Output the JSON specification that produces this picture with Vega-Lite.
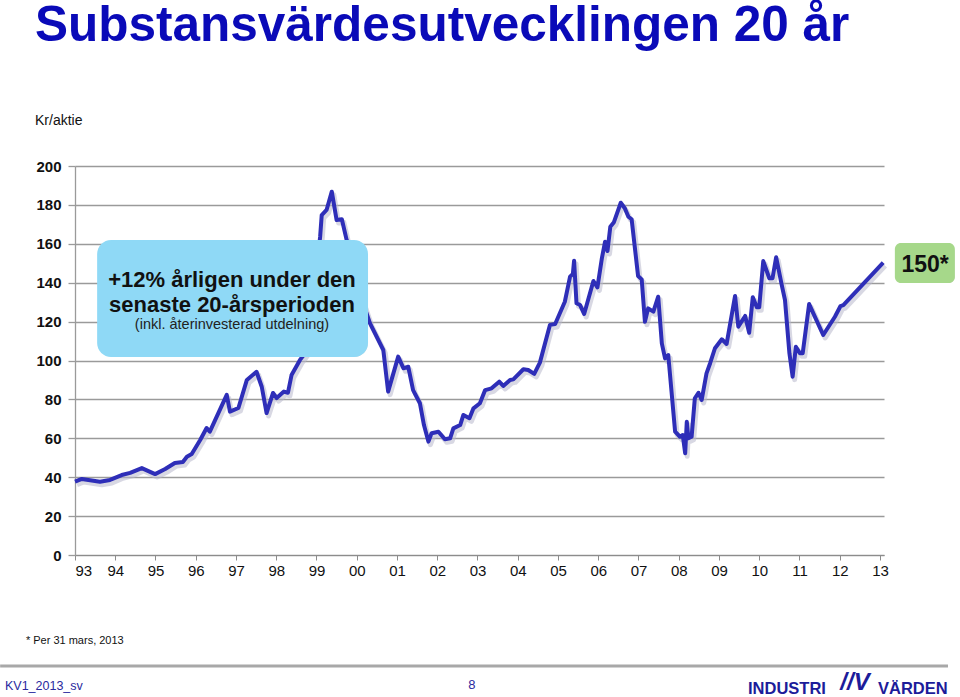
{
  "$schema": "https://vega.github.io/schema/vega-lite/v6.json",
  "width": 809,
  "height": 389,
  "autosize": {"type": "none"},
  "padding": {"left": 75, "top": 166, "right": 76, "bottom": 142},
  "background": "white",
  "config": {
    "view": {"stroke": null},
    "font": "Liberation Sans"
  },
  "title": {
    "text": "Substansvärdesutvecklingen 20 år",
    "subtitle": "Kr/aktie",
    "anchor": "start",
    "frame": "group",
    "dx": -40,
    "offset": 30,
    "subtitlePadding": 63,
    "font": "Liberation Sans",
    "fontSize": 49.5,
    "fontWeight": "bold",
    "color": "#0a0ab8",
    "subtitleFont": "Liberation Sans",
    "subtitleFontSize": 14,
    "subtitleColor": "#111111"
  },
  "datasets": {
    "nav": [
      {"t": 1993.00, "v": 37.7}, {"t": 1993.17, "v": 39.1}, {"t": 1993.62, "v": 37.7}, {"t": 1993.87, "v": 38.6},
      {"t": 1994.16, "v": 41.1}, {"t": 1994.37, "v": 42.2}, {"t": 1994.66, "v": 44.7}, {"t": 1994.99, "v": 41.6},
      {"t": 1995.24, "v": 44.2}, {"t": 1995.48, "v": 47.3}, {"t": 1995.68, "v": 47.8}, {"t": 1995.78, "v": 50.5},
      {"t": 1995.90, "v": 51.9}, {"t": 1996.11, "v": 59.1}, {"t": 1996.27, "v": 65.3}, {"t": 1996.35, "v": 63.4},
      {"t": 1996.77, "v": 82.3}, {"t": 1996.85, "v": 73.7}, {"t": 1997.06, "v": 75.6}, {"t": 1997.27, "v": 90.0},
      {"t": 1997.51, "v": 94.2}, {"t": 1997.64, "v": 86.5}, {"t": 1997.76, "v": 73.0}, {"t": 1997.92, "v": 83.3},
      {"t": 1998.01, "v": 80.7}, {"t": 1998.19, "v": 84.0}, {"t": 1998.29, "v": 83.4}, {"t": 1998.38, "v": 92.5},
      {"t": 1998.59, "v": 100.3}, {"t": 1998.74, "v": 104.4}, {"t": 1998.94, "v": 136.0}, {"t": 1999.09, "v": 163.5},
      {"t": 1999.13, "v": 174.8}, {"t": 1999.25, "v": 177.4}, {"t": 1999.38, "v": 186.8}, {"t": 1999.50, "v": 172.2},
      {"t": 1999.63, "v": 172.6}, {"t": 1999.75, "v": 161.9}, {"t": 1999.96, "v": 146.5}, {"t": 2000.13, "v": 131.1},
      {"t": 2000.33, "v": 119.1}, {"t": 2000.66, "v": 105.4}, {"t": 2000.78, "v": 84.0}, {"t": 2001.03, "v": 102.0},
      {"t": 2001.16, "v": 96.0}, {"t": 2001.28, "v": 96.8}, {"t": 2001.40, "v": 84.8}, {"t": 2001.57, "v": 78.0},
      {"t": 2001.67, "v": 66.8}, {"t": 2001.78, "v": 58.3}, {"t": 2001.86, "v": 62.6}, {"t": 2002.03, "v": 63.4},
      {"t": 2002.19, "v": 59.5}, {"t": 2002.32, "v": 60.0}, {"t": 2002.40, "v": 65.1}, {"t": 2002.57, "v": 66.8},
      {"t": 2002.65, "v": 72.0}, {"t": 2002.80, "v": 70.3}, {"t": 2002.90, "v": 75.4}, {"t": 2003.06, "v": 78.0},
      {"t": 2003.19, "v": 84.8}, {"t": 2003.35, "v": 85.7}, {"t": 2003.54, "v": 89.1}, {"t": 2003.64, "v": 86.9},
      {"t": 2003.81, "v": 90.0}, {"t": 2003.89, "v": 90.3}, {"t": 2004.14, "v": 95.5}, {"t": 2004.26, "v": 95.1},
      {"t": 2004.41, "v": 93.1}, {"t": 2004.55, "v": 98.9}, {"t": 2004.80, "v": 118.3}, {"t": 2004.93, "v": 118.8},
      {"t": 2005.17, "v": 130.2}, {"t": 2005.30, "v": 143.1}, {"t": 2005.37, "v": 144.5}, {"t": 2005.40, "v": 151.3},
      {"t": 2005.46, "v": 129.4}, {"t": 2005.55, "v": 128.5}, {"t": 2005.65, "v": 123.9}, {"t": 2005.88, "v": 140.9},
      {"t": 2005.98, "v": 137.6}, {"t": 2006.09, "v": 152.5}, {"t": 2006.17, "v": 161.1}, {"t": 2006.23, "v": 156.3},
      {"t": 2006.30, "v": 168.8}, {"t": 2006.39, "v": 171.1}, {"t": 2006.56, "v": 181.1}, {"t": 2006.66, "v": 178.3},
      {"t": 2006.75, "v": 173.9}, {"t": 2006.83, "v": 172.6}, {"t": 2006.99, "v": 143.4}, {"t": 2007.08, "v": 141.7},
      {"t": 2007.16, "v": 119.9}, {"t": 2007.24, "v": 126.8}, {"t": 2007.37, "v": 125.1}, {"t": 2007.49, "v": 132.8},
      {"t": 2007.58, "v": 108.8}, {"t": 2007.66, "v": 101.1}, {"t": 2007.74, "v": 102.8}, {"t": 2007.91, "v": 63.4},
      {"t": 2008.03, "v": 60.8}, {"t": 2008.10, "v": 61.7}, {"t": 2008.16, "v": 52.3}, {"t": 2008.20, "v": 68.5},
      {"t": 2008.24, "v": 60.0}, {"t": 2008.32, "v": 60.8}, {"t": 2008.40, "v": 80.6}, {"t": 2008.49, "v": 83.4},
      {"t": 2008.57, "v": 79.7}, {"t": 2008.69, "v": 93.4}, {"t": 2008.78, "v": 98.6}, {"t": 2008.90, "v": 106.3},
      {"t": 2009.07, "v": 110.9}, {"t": 2009.19, "v": 108.5}, {"t": 2009.40, "v": 133.2}, {"t": 2009.48, "v": 117.4},
      {"t": 2009.65, "v": 122.9}, {"t": 2009.75, "v": 114.3}, {"t": 2009.84, "v": 132.5}, {"t": 2009.94, "v": 127.4},
      {"t": 2010.00, "v": 127.4}, {"t": 2010.10, "v": 151.1}, {"t": 2010.25, "v": 142.3}, {"t": 2010.33, "v": 142.3},
      {"t": 2010.42, "v": 153.1}, {"t": 2010.56, "v": 138.8}, {"t": 2010.64, "v": 131.1}, {"t": 2010.75, "v": 103.7},
      {"t": 2010.83, "v": 91.7}, {"t": 2010.91, "v": 107.1}, {"t": 2011.01, "v": 103.7}, {"t": 2011.08, "v": 103.7},
      {"t": 2011.24, "v": 129.0}, {"t": 2011.59, "v": 113.1}, {"t": 2011.88, "v": 122.5}, {"t": 2012.02, "v": 128.0},
      {"t": 2012.09, "v": 128.5}, {"t": 2013.08, "v": 150.3}
    ]
  },
  "layer": [
    {
      "data": {"name": "nav"},
      "mark": {"type": "line", "stroke": "#b8b8cc", "strokeWidth": 5, "opacity": 0.55, "xOffset": 2, "yOffset": 3, "strokeJoin": "round"},
      "encoding": {
        "x": {"field": "t", "type": "quantitative", "scale": {"domain": [1993, 2013.1], "nice": false, "zero": false},
          "axis": {"values": [1993,1994,1995,1996,1997,1998,1999,2000,2001,2002,2003,2004,2005,2006,2007,2008,2009,2010,2011,2012,2013],
            "tickCount": 30,
            "labelExpr": "substring(toString(datum.value), 2, 4)", "title": null, "grid": false, "labelOverlap": false,
            "labelFont": "Liberation Sans", "labelFontSize": 15, "labelColor": "#111111",
            "tickColor": "#8c8c8c", "tickSize": 5, "tickWidth": 1, "domainColor": "#8c8c8c", "domainWidth": 1, "labelPadding": 3}},
        "y": {"field": "v", "type": "quantitative", "scale": {"domain": [0, 200], "nice": false},
          "axis": {"values": [0,20,40,60,80,100,120,140,160,180,200], "tickCount": 15, "title": null, "grid": true, "labelOverlap": false,
            "gridColor": "#9a9a9a", "gridWidth": 1.3, "labelFont": "Liberation Sans", "labelFontSize": 15, "labelFontWeight": "bold",
            "labelColor": "#111111", "tickColor": "#9a9a9a", "tickSize": 7, "tickWidth": 1.3, "domainColor": "#9a9a9a", "domainWidth": 1.3, "labelPadding": 7}}
      }
    },
    {
      "data": {"name": "nav"},
      "mark": {"type": "line", "stroke": "#2e2eb8", "strokeWidth": 4, "strokeJoin": "round"},
      "encoding": {
        "x": {"field": "t", "type": "quantitative", "title": null},
        "y": {"field": "v", "type": "quantitative", "title": null}
      }
    },
    {
      "data": {"values": [{}]},
      "mark": {"type": "rect", "fill": "#8a8a8a", "opacity": 0.35, "cornerRadius": 14, "xOffset": 3, "yOffset": 4, "clip": false},
      "encoding": {
        "x": {"datum": 1993.55, "type": "quantitative", "title": null},
        "x2": {"datum": 2000.28},
        "y": {"datum": 162.0, "type": "quantitative", "title": null},
        "y2": {"datum": 101.8}
      }
    },
    {
      "data": {"values": [{}]},
      "mark": {"type": "rect", "fill": "#8fd9f6", "cornerRadius": 14, "clip": false},
      "encoding": {
        "x": {"datum": 1993.55, "type": "quantitative", "title": null},
        "x2": {"datum": 2000.28},
        "y": {"datum": 162.0, "type": "quantitative", "title": null},
        "y2": {"datum": 101.8}
      }
    },
    {
      "data": {"values": [{"line": "+12% årligen under den", "yy": 141.4}, {"line": "senaste 20-årsperioden", "yy": 128.6}]},
      "mark": {"type": "text", "font": "Liberation Sans", "fontSize": 22, "fontWeight": "bold", "color": "#111111", "align": "center", "baseline": "middle", "clip": false},
      "encoding": {
        "x": {"datum": 1996.9, "type": "quantitative", "title": null},
        "y": {"field": "yy", "type": "quantitative", "title": null},
        "text": {"field": "line"}
      }
    },
    {
      "data": {"values": [{"line": "(inkl. återinvesterad utdelning)"}]},
      "mark": {"type": "text", "font": "Liberation Sans", "fontSize": 14.5, "color": "#222222", "align": "center", "baseline": "middle", "clip": false},
      "encoding": {
        "x": {"datum": 1996.9, "type": "quantitative", "title": null},
        "y": {"datum": 118.0, "type": "quantitative", "title": null},
        "text": {"field": "line"}
      }
    },
    {
      "data": {"values": [{}]},
      "mark": {"type": "rect", "fill": "#8a8a8a", "opacity": 0.35, "cornerRadius": 6, "xOffset": 2, "yOffset": 3, "clip": false},
      "encoding": {
        "x": {"datum": 2013.37, "type": "quantitative", "title": null},
        "x2": {"datum": 2014.86},
        "y": {"datum": 160.4, "type": "quantitative", "title": null},
        "y2": {"datum": 139.8}
      }
    },
    {
      "data": {"values": [{}]},
      "mark": {"type": "rect", "fill": "#a6d88a", "cornerRadius": 6, "clip": false},
      "encoding": {
        "x": {"datum": 2013.37, "type": "quantitative", "title": null},
        "x2": {"datum": 2014.86},
        "y": {"datum": 160.4, "type": "quantitative", "title": null},
        "y2": {"datum": 139.8}
      }
    },
    {
      "data": {"values": [{"label": "150*"}]},
      "mark": {"type": "text", "font": "Liberation Sans", "fontSize": 23, "fontWeight": "bold", "color": "#111111", "align": "center", "baseline": "middle", "clip": false},
      "encoding": {
        "x": {"datum": 2014.12, "type": "quantitative", "title": null},
        "y": {"datum": 149.0, "type": "quantitative", "title": null},
        "text": {"field": "label"}
      }
    },
    {
      "data": {"values": [{"label": "* Per 31 mars, 2013"}]},
      "mark": {"type": "text", "font": "Liberation Sans", "fontSize": 11, "color": "#111111", "align": "left", "baseline": "middle", "clip": false},
      "encoding": {
        "x": {"datum": 1991.78, "type": "quantitative", "title": null},
        "y": {"datum": -44.2, "type": "quantitative", "title": null},
        "text": {"field": "label"}
      }
    },
    {
      "data": {"values": [{}]},
      "mark": {"type": "rule", "stroke": "#a8a8a8", "strokeWidth": 3, "clip": false},
      "encoding": {
        "x": {"datum": 1991.14, "type": "quantitative", "title": null},
        "x2": {"datum": 2014.69},
        "y": {"datum": -57.1, "type": "quantitative", "title": null}
      }
    },
    {
      "data": {"values": [{"label": "KV1_2013_sv"}]},
      "mark": {"type": "text", "font": "Liberation Sans", "fontSize": 12.5, "color": "#2a2a9e", "align": "left", "baseline": "middle", "clip": false},
      "encoding": {
        "x": {"datum": 1991.26, "type": "quantitative", "title": null},
        "y": {"datum": -67.4, "type": "quantitative", "title": null},
        "text": {"field": "label"}
      }
    },
    {
      "data": {"values": [{"label": "8"}]},
      "mark": {"type": "text", "font": "Liberation Sans", "fontSize": 13, "color": "#2a2a9e", "align": "center", "baseline": "middle", "clip": false},
      "encoding": {
        "x": {"datum": 2002.86, "type": "quantitative", "title": null},
        "y": {"datum": -66.8, "type": "quantitative", "title": null},
        "text": {"field": "label"}
      }
    },
    {
      "data": {"values": [{"label": "INDUSTRI", "xx": 2009.72}, {"label": "VÄRDEN", "xx": 2012.95}]},
      "mark": {"type": "text", "font": "Liberation Sans", "fontSize": 16.5, "fontWeight": "bold", "color": "#1c1c9a", "align": "left", "baseline": "alphabetic", "clip": false},
      "encoding": {
        "x": {"field": "xx", "type": "quantitative", "title": null},
        "y": {"datum": -71.5, "type": "quantitative", "title": null},
        "text": {"field": "label"}
      }
    },
    {
      "data": {"values": [{"label": "//V"}]},
      "mark": {"type": "text", "font": "Liberation Sans", "fontSize": 24, "fontWeight": "bold", "fontStyle": "italic", "color": "#1c1c9a", "align": "center", "baseline": "middle", "clip": false},
      "encoding": {
        "x": {"datum": 2012.38, "type": "quantitative", "title": null},
        "y": {"datum": -65.8, "type": "quantitative", "title": null},
        "text": {"field": "label"}
      }
    }
  ]
}
